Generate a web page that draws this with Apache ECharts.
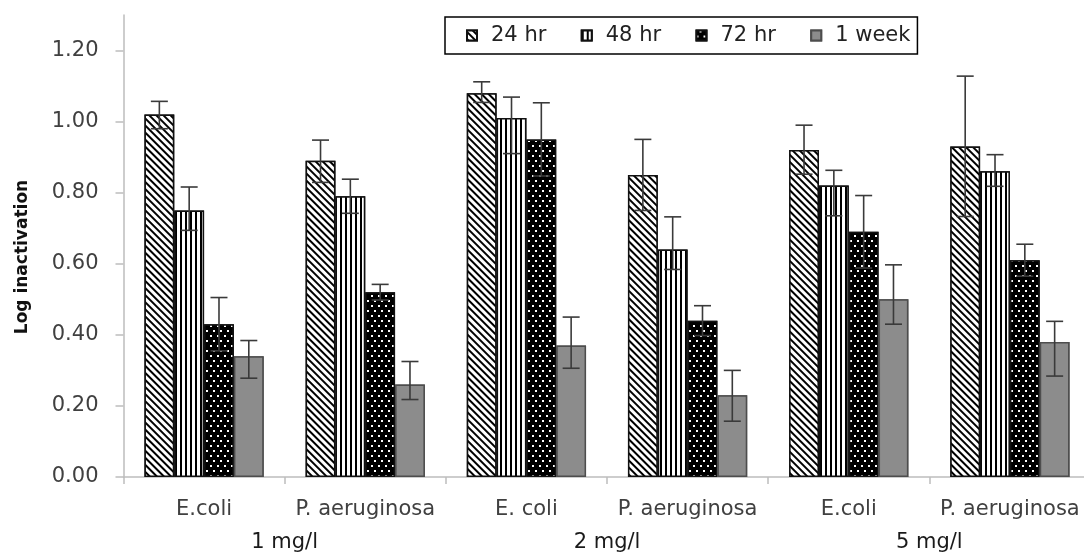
<!DOCTYPE html>
<html>
<head>
<meta charset="utf-8">
<script src="https://cdn.jsdelivr.net/npm/echarts@6/dist/echarts.min.js"></script>
<style>
html,body{margin:0;padding:0;background:#fff;}
#chart{width:1084px;height:556px;}
</style>
</head>
<body>
<div id="chart"></div>
<script>
// ---- data ----
const categories = ['E.coli', 'P. aeruginosa', 'E. coli', 'P. aeruginosa', 'E.coli', 'P. aeruginosa'];
const groups = ['1 mg/l', '2 mg/l', '5 mg/l'];
const seriesNames = ['24 hr', '48 hr', '72 hr', '1 week'];
const yTicks = [0, 0.2, 0.4, 0.6, 0.8, 1.0, 1.2];

const v24 = [1.02, 0.89, 1.08, 0.85, 0.92, 0.93];
const v48 = [0.75, 0.79, 1.01, 0.64, 0.82, 0.86];
const v72 = [0.43, 0.52, 0.95, 0.44, 0.69, 0.61];
const v1w = [0.34, 0.26, 0.37, 0.23, 0.50, 0.38];

const e24Up = [0.037, 0.058, 0.032, 0.100, 0.070, 0.198];
const e24Dn = [0.040, 0.061, 0.026, 0.100, 0.068, 0.197];
const e48Up = [0.066, 0.048, 0.059, 0.092, 0.043, 0.047];
const e48Dn = [0.056, 0.048, 0.100, 0.056, 0.085, 0.042];
const e72Up = [0.075, 0.022, 0.103, 0.042, 0.102, 0.045];
const e72Dn = [0.075, 0.022, 0.103, 0.042, 0.102, 0.045];
const e1wUp = [0.044, 0.065, 0.080, 0.070, 0.097, 0.058];
const e1wDn = [0.062, 0.042, 0.064, 0.073, 0.070, 0.096];

// ---- styling ----
const FONT = 'DejaVu Sans';
const AXIS_GRAY = '#bdbdbd';
const CAT_GAP = 0.26;

const values = [v24, v48, v72, v1w];
const errUp = [e24Up, e48Up, e72Up, e1wUp];
const errDn = [e24Dn, e48Dn, e72Dn, e1wDn];

const decals = [
  {symbol: 'rect', symbolSize: 1, color: '#000', backgroundColor: '#fff',
   dashArrayX: [1, 0], dashArrayY: [1.1, 2.5], rotation: Math.PI / 4},
  {symbol: 'rect', symbolSize: 1, color: '#000', backgroundColor: '#fff',
   dashArrayX: [1.3, 2.9], dashArrayY: [1, 0], rotation: 0},
  {symbol: 'rect', symbolSize: 1, color: '#fff', backgroundColor: '#000',
   dashArrayX: [[1.5, 4.5], [0, 3, 1.5, 1.5]], dashArrayY: [1.5, 3], rotation: 0},
  {symbol: 'rect', symbolSize: 1, color: '#8c8c8c', backgroundColor: '#8c8c8c',
   dashArrayX: [1, 0], dashArrayY: [1, 0], rotation: 0}
];
const fills = ['#ffffff', '#ffffff', '#000000', '#8c8c8c'];
const borders = ['#111', '#111', '#111', '#4d4d4d'];

const barSeries = seriesNames.map((name, k) => ({
  name: name,
  type: 'bar',
  xAxisIndex: 0,
  data: values[k],
  barGap: '0%',
  barCategoryGap: (CAT_GAP * 100) + '%',
  itemStyle: {color: fills[k], borderColor: borders[k], borderWidth: 1.5, decal: decals[k]},
  z: 2
}));

const errSeries = seriesNames.map((name, k) => ({
  name: name,
  type: 'custom',
  xAxisIndex: 0,
  z: 5,
  silent: true,
  data: values[k].map((v, i) => [i, v, errUp[k][i], errDn[k][i]]),
  encode: {x: 0, y: 1},
  renderItem: function (params, api) {
    const ci = api.value(0), val = api.value(1), up = api.value(2), dn = api.value(3);
    const band = api.size([1, 0])[0];
    const bw = band * (1 - CAT_GAP) / 4;
    const cx = api.coord([ci, val])[0] + (k - 1.5) * bw;
    const yT = api.coord([ci, val + up])[1];
    const yB = api.coord([ci, val - dn])[1];
    const h = 8.5;
    const st = {stroke: '#3a3a3a', lineWidth: 1.6};
    return {
      type: 'group',
      children: [
        {type: 'line', shape: {x1: cx, y1: yT, x2: cx, y2: yB}, style: st},
        {type: 'line', shape: {x1: cx - h, y1: yT, x2: cx + h, y2: yT}, style: st},
        {type: 'line', shape: {x1: cx - h, y1: yB, x2: cx + h, y2: yB}, style: st}
      ]
    };
  }
}));

const chart = echarts.init(document.getElementById('chart'), null, {renderer: 'canvas'});
chart.setOption({
  backgroundColor: '#fff',
  animation: false,
  grid: {left: 123.5, right: -6.5, top: 15, bottom: 79, containLabel: false, outerBoundsMode: 'none'},
  legend: {
    data: seriesNames,
    left: 445, top: 17,
    orient: 'horizontal',
    icon: 'rect',
    itemWidth: 10, itemHeight: 10,
    itemGap: 34.4,
    padding: [8, 7, 8, 21],
    borderColor: '#000', borderWidth: 1.5,
    textStyle: {fontFamily: FONT, fontSize: 21, color: '#222', padding: [0, 0, 0, 9]}
  },
  xAxis: [
    {
      type: 'category', data: categories, position: 'bottom',
      axisLine: {show: true, lineStyle: {color: AXIS_GRAY, width: 1.5}},
      axisTick: {show: true, length: 7, interval: 0, lineStyle: {color: AXIS_GRAY, width: 1.5}},
      axisLabel: {interval: 0, margin: 22, fontFamily: FONT, fontSize: 21, color: '#404040'},
      splitLine: {show: false}
    },
    {
      type: 'category', data: groups, position: 'bottom',
      axisLine: {show: false}, axisTick: {show: false},
      axisLabel: {interval: 0, margin: 55, fontFamily: FONT, fontSize: 21, color: '#1a1a1a'},
      splitLine: {show: false}
    }
  ],
  yAxis: {
    type: 'value', min: 0, max: 1.3, interval: 0.2,
    axisLine: {show: true, lineStyle: {color: AXIS_GRAY, width: 1.5}},
    axisTick: {show: true, length: 8, inside: false, customValues: yTicks, lineStyle: {color: AXIS_GRAY, width: 1.5}},
    axisLabel: {customValues: yTicks, margin: 25, fontFamily: FONT, fontSize: 21, color: '#404040',
      formatter: v => v.toFixed(2)},
    splitLine: {show: false}
  },
  graphic: [{
    type: 'text', x: 23, y: 257, rotation: Math.PI / 2,
    style: {text: 'Log inactivation', fontFamily: FONT, fontWeight: 'bold', fontSize: 17,
      fill: '#111', align: 'center', verticalAlign: 'middle'}
  }],
  series: barSeries.concat(errSeries)
});
</script>
</body>
</html>
